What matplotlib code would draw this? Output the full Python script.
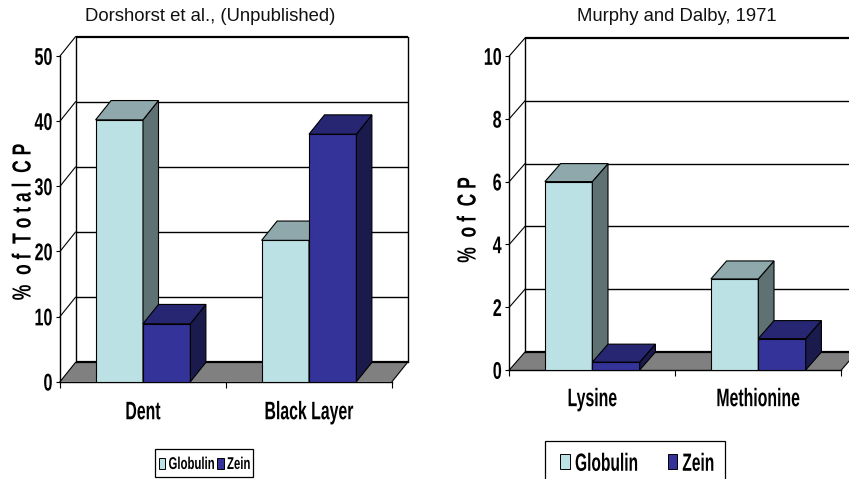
import matplotlib
matplotlib.use("Agg")
import matplotlib.pyplot as plt
from matplotlib.patches import Polygon, Rectangle
from matplotlib.patheffects import AbstractPathEffect
from matplotlib.transforms import Affine2D

left_categories = ["Dent", "Black Layer"]
left_globulin = [40.2, 21.7]
left_zein = [8.9, 38.0]
left_ticks = [0, 10, 20, 30, 40, 50]

right_categories = ["Lysine", "Methionine"]
right_globulin = [6.0, 2.9]
right_zein = [0.25, 1.0]
right_ticks = [0, 2, 4, 6, 8, 10]

GLOB = ("#BBE1E4", "#8FA8AB", "#5E7173")
ZEIN = ("#333399", "#262673", "#1A1A4D")

W, H = 849, 479
FONT = "Liberation Sans"

fig = plt.figure(figsize=(W / 100, H / 100), dpi=100)


class Tall(AbstractPathEffect):
    # condensed look: no narrow face is installed, so stretch the glyphs upward
    def __init__(self, sy):
        super().__init__()
        self.sy = sy

    def draw_path(self, renderer, gc, tpath, affine, rgbFace=None):
        # glyph paths come at size 100, 35 is about mid cap height
        stretch = Affine2D().translate(0, -35).scale(1, self.sy).translate(0, 35)
        renderer.draw_path(gc, tpath, stretch + affine, rgbFace)


def bar3d(ax, x, width, val, colors, dx, dy):
    ax.bar(x, val, width, align="edge", color=colors[0], edgecolor="black", linewidth=0.8, zorder=3)
    side = [(x + width, 0), (x + width + dx, dy), (x + width + dx, val + dy), (x + width, val)]
    top = [(x, val), (x + dx, val + dy), (x + width + dx, val + dy), (x + width, val)]
    ax.add_patch(Polygon(side, facecolor=colors[2], edgecolor="black", linewidth=0.8, zorder=3))
    ax.add_patch(Polygon(top, facecolor=colors[1], edgecolor="black", linewidth=0.8, zorder=3))


def chart(x0, y0, xback, ytop, ymax_px, cats, glob, zein, ticks, ylabel, ylabel_x, ylabel_y, title, title_x, cat_pad):
    # x0,y0 is the front corner of the floor, all in figure pixels from the top left
    ppu = (y0 - ymax_px) / ticks[-1]
    cat_w = 166.0
    dx = (xback - x0 - 2 * cat_w) / cat_w
    dy = (ymax_px - ytop) / ppu
    ax = fig.add_axes([x0 / W, 1 - y0 / H, (xback - x0) / W, (y0 - ytop) / H])
    ax.set_xlim(0, 2 + dx)
    ax.set_ylim(0, ticks[-1] + dy)
    ax.patch.set_visible(False)
    for s in ["top", "right"]:
        ax.spines[s].set_visible(False)
    ax.spines["left"].set_bounds(0, ticks[-1])
    ax.spines["bottom"].set_bounds(0, 2)
    ax.spines["left"].set_linewidth(1.0)
    ax.spines["bottom"].set_linewidth(1.0)

    # floor and back wall
    top = ticks[-1] + dy
    ax.add_patch(Polygon([(0, 0), (dx, dy), (2 + dx, dy), (2, 0)], facecolor="#808080", edgecolor="none", zorder=1, clip_on=False))
    for t in ticks:
        ax.plot([dx, 2 + dx], [t + dy, t + dy], color="black", lw=1.6 if t in (ticks[0], ticks[-1]) else 1.0, zorder=2, clip_on=False, solid_capstyle="butt")
        ax.plot([0, dx], [t, t + dy], color="black", lw=0.8, zorder=2, clip_on=False)
    ax.plot([dx, dx], [dy, top], color="black", lw=1.0, zorder=2, clip_on=False)
    ax.plot([2 + dx, 2 + dx], [dy, top], color="black", lw=1.0, zorder=2, clip_on=False)
    ax.plot([2, 2 + dx], [0, dy], color="black", lw=0.8, zorder=2, clip_on=False)

    width = 47.4 / cat_w
    start = 35.6 / cat_w
    for i in range(2):
        bar3d(ax, i + start, width, glob[i], GLOB, dx, dy)
        bar3d(ax, i + start + width, width, zein[i], ZEIN, dx, dy)

    ax.set_yticks(ticks)
    ax.set_yticklabels([str(t) for t in ticks], family=FONT, fontweight="bold", fontsize=11.6)
    for lab in ax.get_yticklabels():
        lab.set_path_effects([Tall(1.5)])
    ax.tick_params(axis="y", length=3, width=0.8, pad=2.5)
    ax.set_xticks([0, 1, 2])
    ax.set_xticklabels([])
    ax.tick_params(axis="x", which="major", length=4, width=0.8)
    ax.set_xticks([0.5, 1.5], minor=True)
    ax.set_xticklabels(cats, minor=True, family=FONT, fontweight="bold", fontsize=11.4)
    for lab in ax.get_xticklabels(minor=True):
        lab.set_path_effects([Tall(1.6)])
    ax.tick_params(axis="x", which="minor", length=0, pad=cat_pad)

    t = fig.text(ylabel_x / W, 1 - ylabel_y / H, ylabel, rotation=90, ha="center", va="center", family=FONT, fontweight="bold", fontsize=12.6)
    t.set_path_effects([Tall(1.5)])
    fig.text(title_x / W, 1 - 16.5 / H, title, ha="center", va="center", family=FONT, fontsize=13.3, color="#111111")


def legend(box, items, size, sy, key_w, key_h):
    x, y, w, h = box
    fig.add_artist(Rectangle((x / W, 1 - (y + h) / H), w / W, h / H, transform=fig.transFigure, facecolor="white", edgecolor="black", linewidth=0.9))
    for kx, tx, label, color in items:
        fig.add_artist(Rectangle((kx / W, 1 - (y + h / 2 + key_h / 2) / H), key_w / W, key_h / H, transform=fig.transFigure, facecolor=color, edgecolor="black", linewidth=0.7))
        t = fig.text(tx / W, 1 - (y + h / 2) / H, label, ha="left", va="center_baseline", family=FONT, fontweight="bold", fontsize=size)
        t.set_path_effects([Tall(sy)])


chart(60, 381.7, 407.5, 36.7, 56, left_categories, left_globulin, left_zein, left_ticks,
      "%  o f  T o t a l  C P", 23, 222, "Dorshorst et al., (Unpublished)", 210.5, 16)
chart(509.3, 370, 857, 38, 56, right_categories, right_globulin, right_zein, right_ticks,
      "%  o f  C P", 468, 220, "Murphy and Dalby, 1971", 676.7, 15)

legend((154.5, 449, 98.5, 28), [(158.7, 168.5, "Globulin", GLOB[0]), (217, 227, "Zein", ZEIN[0])], 8.2, 1.5, 6.7, 11)
legend((545, 440.5, 180, 42), [(560, 575, "Globulin", GLOB[0]), (667.7, 682.3, "Zein", ZEIN[0])], 11.2, 1.6, 9.7, 15)

fig.savefig("out.png", dpi=100)
